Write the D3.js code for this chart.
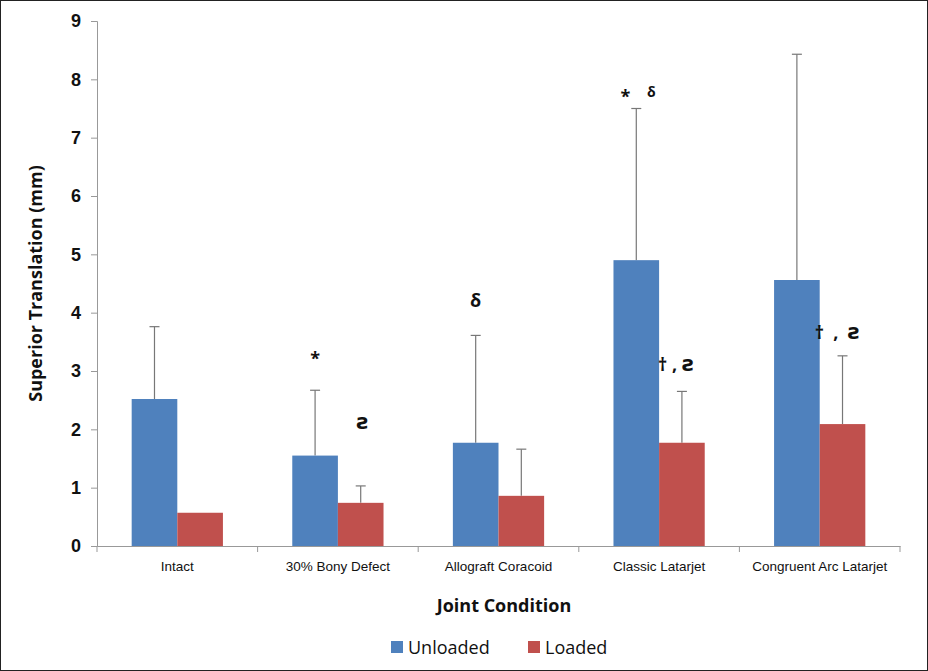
<!DOCTYPE html>
<html>
<head>
<meta charset="utf-8">
<script src="https://cdn.jsdelivr.net/npm/d3@7"></script>
<style>
  body { margin: 0; background: #fff; }
  svg { font-family: "Open Sans", "Liberation Sans", sans-serif; }
  .mark, .mark tspan { white-space: pre; }
</style>
</head>
<body>
<svg width="928" height="671"></svg>
<script>
const conditions = ['Intact', '30% Bony Defect', 'Allograft Coracoid', 'Classic Latarjet', 'Congruent Arc Latarjet'];
const seriesNames = ['Unloaded', 'Loaded'];
const unloaded = [2.52, 1.55, 1.77, 4.90, 4.56];
const unloadedErr = [1.24, 1.12, 1.84, 2.60, 3.87];
const loaded = [0.57, 0.74, 0.86, 1.77, 2.09];
const loadedErr = [0, 0.29, 0.80, 0.88, 1.17];
const yTicks = [0, 1, 2, 3, 4, 5, 6, 7, 8, 9];
// significance marks: [condition index, series index, text, y value of baseline, x shift]
const marks = [
  [1, 0, '*', 3.1, 0],
  [1, 1, 'ƨ', 2.0, 2],
  [2, 0, 'δ', 4.1, 0],
  [3, 0, '*', 7.6, -11],
  [3, 0, 'δ', 7.7, 15],
  [3, 1, '† , ƨ', 3.0, -1],
  [4, 1, '†  ,  ƨ', 3.55, -5]
];

const colors = ['#4F81BD', '#C0504D'];

const svg = d3.select('svg');
const width = +svg.attr('width');
const height = +svg.attr('height');

svg.append('rect')
  .attr('x', 0.5).attr('y', 0.5)
  .attr('width', width - 1).attr('height', height - 1)
  .attr('fill', '#fff').attr('stroke', '#222');

const margin = { top: 21, right: 28, bottom: 125, left: 97 };
const innerWidth = width - margin.left - margin.right;
const innerHeight = height - margin.top - margin.bottom;

const g = svg.append('g')
  .attr('transform', `translate(${margin.left},${margin.top})`);

const xScale = d3.scaleBand()
  .domain(conditions)
  .range([0, innerWidth]);

const xSub = d3.scaleBand()
  .domain(seriesNames)
  .range([0, xScale.bandwidth()])
  .paddingOuter(0.76)
  .paddingInner(0);

const yScale = d3.scaleLinear()
  .domain([0, 9])
  .range([innerHeight, 0]);

// y axis
const yAxisG = g.append('g')
  .call(d3.axisLeft(yScale).tickValues(yTicks).tickSize(6).tickPadding(10));
yAxisG.selectAll('.domain, line').attr('stroke', '#999');
yAxisG.selectAll('text')
  .attr('font-size', 18).attr('font-weight', 'bold').attr('fill', '#111');

// x axis with ticks on band boundaries
const xAxisG = g.append('g')
  .attr('transform', `translate(0,${innerHeight})`)
  .call(d3.axisBottom(xScale).tickSize(0).tickPadding(15));
xAxisG.select('.domain').attr('stroke', '#999');
xAxisG.selectAll('text').attr('font-size', 13.5).attr('fill', '#111');
xAxisG.selectAll('.sep')
  .data(d3.range(conditions.length + 1))
  .join('line')
    .attr('class', 'sep')
    .attr('x1', i => i * xScale.step())
    .attr('x2', i => i * xScale.step())
    .attr('y1', 0).attr('y2', 6)
    .attr('stroke', '#999');

const seriesData = [
  conditions.map((c, i) => ({ c, s: 'Unloaded', v: unloaded[i], e: unloadedErr[i] })),
  conditions.map((c, i) => ({ c, s: 'Loaded', v: loaded[i], e: loadedErr[i] }))
];

seriesData.forEach((data, k) => {
  // error bars (upper)
  const eb = g.append('g').selectAll('g')
    .data(data.filter(d => d.e > 0))
    .join('g')
      .attr('transform', d => `translate(${xScale(d.c) + xSub(d.s) + xSub.bandwidth() / 2},0)`);
  eb.append('line')
    .attr('y1', d => yScale(d.v)).attr('y2', d => yScale(d.v + d.e))
    .attr('stroke', '#777').attr('stroke-width', 1.2);
  eb.append('line')
    .attr('x1', -5).attr('x2', 5)
    .attr('y1', d => yScale(d.v + d.e)).attr('y2', d => yScale(d.v + d.e))
    .attr('stroke', '#777').attr('stroke-width', 1.2);

  g.append('g').selectAll('rect')
    .data(data)
    .join('rect')
      .attr('x', d => xScale(d.c) + xSub(d.s))
      .attr('y', d => yScale(d.v))
      .attr('width', xSub.bandwidth())
      .attr('height', d => innerHeight - yScale(d.v))
      .attr('fill', colors[k]);
});

// significance markers
const markText = g.append('g').selectAll('text')
  .data(marks)
  .join('text')
    .attr('class', 'mark')
    .attr('x', d => xScale(conditions[d[0]]) + xSub(seriesNames[d[1]]) + (d[1] === 1 && d[2].length > 2 ? 0 : xSub.bandwidth() / 2) + d[4])
    .attr('y', d => yScale(d[3]))
    .attr('text-anchor', d => d[1] === 1 && d[2].length > 2 ? 'start' : 'middle')
    .attr('font-size', d => d[2] === 'δ' && d[0] === 3 ? 14 : 18)
    .attr('font-weight', 'bold').attr('fill', '#111');

// split so the tone-two letter can use a font that has it
markText.selectAll('tspan')
  .data(d => d[2].split(/(ƨ)/).filter(s => s.length))
  .join('tspan')
    .attr('font-family', s => s === 'ƨ' ? '"DejaVu Sans", sans-serif' : null)
    .attr('font-size', s => s === 'ƨ' ? 21 : null)
    .text(s => s);

// axis titles
svg.append('text')
  .attr('transform', `translate(42,${margin.top + innerHeight / 2}) rotate(-90)`)
  .attr('text-anchor', 'middle')
  .attr('font-size', 18).attr('font-weight', 'bold').attr('fill', '#111')
  .text('Superior Translation (mm)');

svg.append('text')
  .attr('x', 504)
  .attr('y', 612)
  .attr('text-anchor', 'middle')
  .attr('font-size', 18).attr('font-weight', 'bold').attr('fill', '#111')
  .text('Joint Condition');

// legend
const legend = svg.append('g').attr('transform', 'translate(391,641)');
const legItem = legend.selectAll('g')
  .data(seriesNames)
  .join('g')
    .attr('transform', (d, i) => `translate(${i * 137},0)`);
legItem.append('rect')
  .attr('width', 12).attr('height', 12)
  .attr('fill', (d, i) => colors[i]);
legItem.append('text')
  .attr('x', 17).attr('y', 13)
  .attr('font-size', 18).attr('fill', '#111')
  .text(d => d);
</script>
</body>
</html>
